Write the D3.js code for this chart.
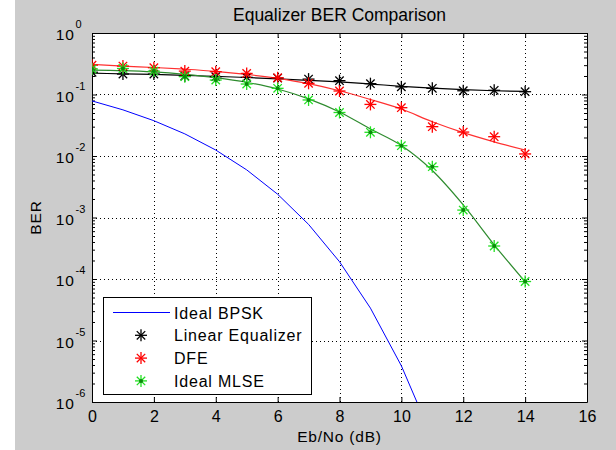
<!DOCTYPE html>
<html>
<head>
<meta charset="utf-8">
<script src="https://cdn.jsdelivr.net/npm/d3@7"></script>
<style>
  body { margin: 0; background: #ffffff; }
  text { font-family: "Liberation Sans", Arial, sans-serif; fill: #000; }
</style>
</head>
<body>
<div id="chart"></div>
<script>
// Eb/No points (dB)
const snr = [0, 1, 2, 3, 4, 5, 6, 7, 8, 9, 10, 11, 12, 13, 14];

// theoretical BPSK curve
const bpskBer = [0.0786, 0.0563, 0.0375, 0.0229, 0.0125, 0.00595, 0.00239, 7.73e-4,
  1.91e-4, 3.36e-5, 3.87e-6, 2.61e-7, 9.0e-9, 1.9e-10, 2.3e-12];

// simulated points (markers)
const linearBer = [0.23, 0.215, 0.215, 0.20, 0.195, 0.19, 0.185, 0.178, 0.168, 0.15, 0.133, 0.126, 0.115, 0.117, 0.111];
const dfeBer = [0.30, 0.29, 0.273, 0.24, 0.235, 0.22, 0.187, 0.152, 0.114, 0.069, 0.061, 0.030, 0.0245, 0.0206, 0.0108];
const mlseBer = [0.26, 0.265, 0.24, 0.195, 0.172, 0.148, 0.126, 0.0815, 0.051, 0.0243, 0.0147, 0.0067, 0.00132, 3.44e-4, 9.1e-5];

// fitted curves
const linearFit = [0.222, 0.217, 0.212, 0.205, 0.197, 0.189, 0.18, 0.17, 0.16, 0.148, 0.136, 0.127, 0.12, 0.115, 0.112];
const dfeFit = [0.31, 0.29, 0.275, 0.258, 0.238, 0.212, 0.183, 0.15, 0.115, 0.083, 0.058, 0.036, 0.024, 0.017, 0.0125];
const mlseFit = [0.25, 0.245, 0.233, 0.213, 0.188, 0.158, 0.123, 0.085, 0.052, 0.0275, 0.0148, 0.0058, 0.0016, 3.6e-4, 9.0e-5];

const xTicks = [0, 2, 4, 6, 8, 10, 12, 14, 16];
const yDecades = [0, -1, -2, -3, -4, -5, -6];
const legendLabels = ["Ideal BPSK", "Linear Equalizer", "DFE", "Ideal MLSE"];

const W = 616, H = 450;
const pL = 92, pR = 587, pT = 33, pB = 402;

const svg = d3.select("#chart").append("svg")
    .attr("width", W).attr("height", H);

svg.append("rect").attr("width", W).attr("height", H).attr("fill", "#ffffff");
svg.append("rect").attr("x", 15).attr("width", W - 15).attr("height", H).attr("fill", "#cccccc");

const x = d3.scaleLinear().domain([0, 16]).range([pL, pR]);
const y = d3.scaleLog().domain([1e-6, 1]).range([pB, pT]);

svg.append("rect")
    .attr("x", pL).attr("y", pT)
    .attr("width", pR - pL).attr("height", pB - pT)
    .attr("fill", "#ffffff");

svg.append("clipPath").attr("id", "clip")
  .append("rect")
    .attr("x", pL).attr("y", pT)
    .attr("width", pR - pL).attr("height", pB - pT);

// grid
const grid = svg.append("g")
    .attr("stroke", "#000")
    .attr("stroke-width", 1)
    .attr("stroke-dasharray", "1,3");
grid.selectAll(".gx").data(xTicks.slice(1, -1)).enter().append("line")
    .attr("x1", d => Math.round(x(d)) + 0.5).attr("x2", d => Math.round(x(d)) + 0.5)
    .attr("y1", pT).attr("y2", pB);
grid.selectAll(".gy").data(yDecades.slice(1, -1)).enter().append("line")
    .attr("x1", pL).attr("x2", pR)
    .attr("y1", d => Math.round(y(Math.pow(10, d))) + 0.5)
    .attr("y2", d => Math.round(y(Math.pow(10, d))) + 0.5);

// axes
const xAxisB = d3.axisBottom(x).tickValues(xTicks).tickSizeInner(-5).tickSizeOuter(0).tickPadding(9);
const gxb = svg.append("g").attr("transform", `translate(0,${pB})`).call(xAxisB);
gxb.attr("font-size", null).attr("font-family", null);
gxb.selectAll("text").style("font-size", "16px");

svg.append("g").attr("transform", `translate(0,${pT})`)
    .call(d3.axisTop(x).tickValues(xTicks).tickSizeInner(-5).tickSizeOuter(0).tickFormat(""));

const minor = [];
for (let e = -6; e < 0; e++) for (let m = 2; m <= 9; m++) minor.push(m * Math.pow(10, e));
const majors = yDecades.map(d => Math.pow(10, d));

svg.append("g").attr("transform", `translate(${pL},0)`)
    .call(d3.axisLeft(y).tickValues(majors).tickSizeInner(-5).tickSizeOuter(0).tickFormat(""));
svg.append("g").attr("transform", `translate(${pL},0)`)
    .call(d3.axisLeft(y).tickValues(minor).tickSizeInner(-3).tickSizeOuter(0).tickFormat(""))
    .select(".domain").remove();
svg.append("g").attr("transform", `translate(${pR},0)`)
    .call(d3.axisRight(y).tickValues(majors).tickSizeInner(-5).tickSizeOuter(0).tickFormat(""));
svg.append("g").attr("transform", `translate(${pR},0)`)
    .call(d3.axisRight(y).tickValues(minor).tickSizeInner(-3).tickSizeOuter(0).tickFormat(""))
    .select(".domain").remove();

svg.selectAll(".tick line").attr("stroke", "#000");
svg.selectAll(".domain").attr("stroke", "#000");

// y tick labels 10^n
const ylab = svg.append("g");
yDecades.forEach(d => {
  const ty = y(Math.pow(10, d));
  ylab.append("text").attr("x", 75).attr("y", ty + 7)
      .attr("text-anchor", "end").style("font-size", "15.5px").style("letter-spacing", "1px")
      .text("10");
  ylab.append("text").attr("x", 75.5).attr("y", ty - 5)
      .attr("text-anchor", "start").style("font-size", "11px")
      .text(d === 0 ? "0" : String(d));
});

// titles
svg.append("text").attr("x", (pL + pR) / 2).attr("y", 21)
    .attr("text-anchor", "middle").style("font-size", "17.5px")
    .text("Equalizer BER Comparison");
svg.append("text").attr("x", (pL + pR) / 2).attr("y", 442)
    .attr("text-anchor", "middle").style("font-size", "15.5px").style("letter-spacing", "0.8px")
    .text("Eb/No (dB)");
svg.append("text").attr("transform", `translate(41,${(pT + pB) / 2}) rotate(-90)`)
    .attr("text-anchor", "middle").style("font-size", "15.5px").style("letter-spacing", "0.8px")
    .text("BER");

// lines
const plot = svg.append("g").attr("clip-path", "url(#clip)");
const lineLin = d3.line().x((d, i) => x(snr[i])).y(d => y(d));
const lineSmooth = d3.line().x((d, i) => x(snr[i])).y(d => y(d)).curve(d3.curveMonotoneX);

plot.append("path").datum(bpskBer).attr("d", lineLin)
    .attr("fill", "none").attr("stroke", "#0000ff").attr("stroke-width", 1);
plot.append("path").datum(linearFit).attr("d", lineSmooth)
    .attr("fill", "none").attr("stroke", "#000000").attr("stroke-width", 1.2);
plot.append("path").datum(dfeFit).attr("d", lineSmooth)
    .attr("fill", "none").attr("stroke", "#ff3030").attr("stroke-width", 1.2);
plot.append("path").datum(mlseFit).attr("d", lineSmooth)
    .attr("fill", "none").attr("stroke", "#2e8b2e").attr("stroke-width", 1.2);

function star(g, cx, cy, color, center) {
  const a = 6, b = 4.2;
  const s = g.append("g").attr("stroke", color).attr("stroke-width", 1.3);
  s.append("line").attr("x1", cx - a).attr("x2", cx + a).attr("y1", cy).attr("y2", cy);
  s.append("line").attr("x1", cx).attr("x2", cx).attr("y1", cy - a).attr("y2", cy + a);
  s.append("line").attr("x1", cx - b).attr("x2", cx + b).attr("y1", cy - b).attr("y2", cy + b);
  s.append("line").attr("x1", cx - b).attr("x2", cx + b).attr("y1", cy + b).attr("y2", cy - b);
  if (center) g.append("circle").attr("cx", cx).attr("cy", cy).attr("r", 2).attr("fill", center);
}

const markers = plot.append("g");
linearBer.forEach((v, i) => star(markers, x(snr[i]), y(v), "#000000", null));
dfeBer.forEach((v, i) => star(markers, x(snr[i]), y(v), "#ff0000", null));
mlseBer.forEach((v, i) => star(markers, x(snr[i]), y(v), "#22e022", "#0a8a0a"));

// legend
const lg = svg.append("g");
lg.append("rect").attr("x", 103.5).attr("y", 297.5).attr("width", 208).attr("height", 97)
    .attr("fill", "#ffffff").attr("stroke", "#000").attr("stroke-width", 1);
const legendColors = ["#0000ff", "#000000", "#ff0000", "#22e022"];
legendLabels.forEach((lab, i) => {
  const cy = 312.5 + i * 22.8;
  if (i === 0) {
    lg.append("line").attr("x1", 113).attr("x2", 170).attr("y1", cy).attr("y2", cy)
        .attr("stroke", legendColors[i]).attr("stroke-width", 1);
  } else {
    star(lg, 141, cy, legendColors[i], i === 3 ? "#0a8a0a" : null);
  }
  lg.append("text").attr("x", 174).attr("y", cy + 6)
      .style("font-size", "16px").style("letter-spacing", "0.8px")
      .text(lab);
});
</script>
</body>
</html>
